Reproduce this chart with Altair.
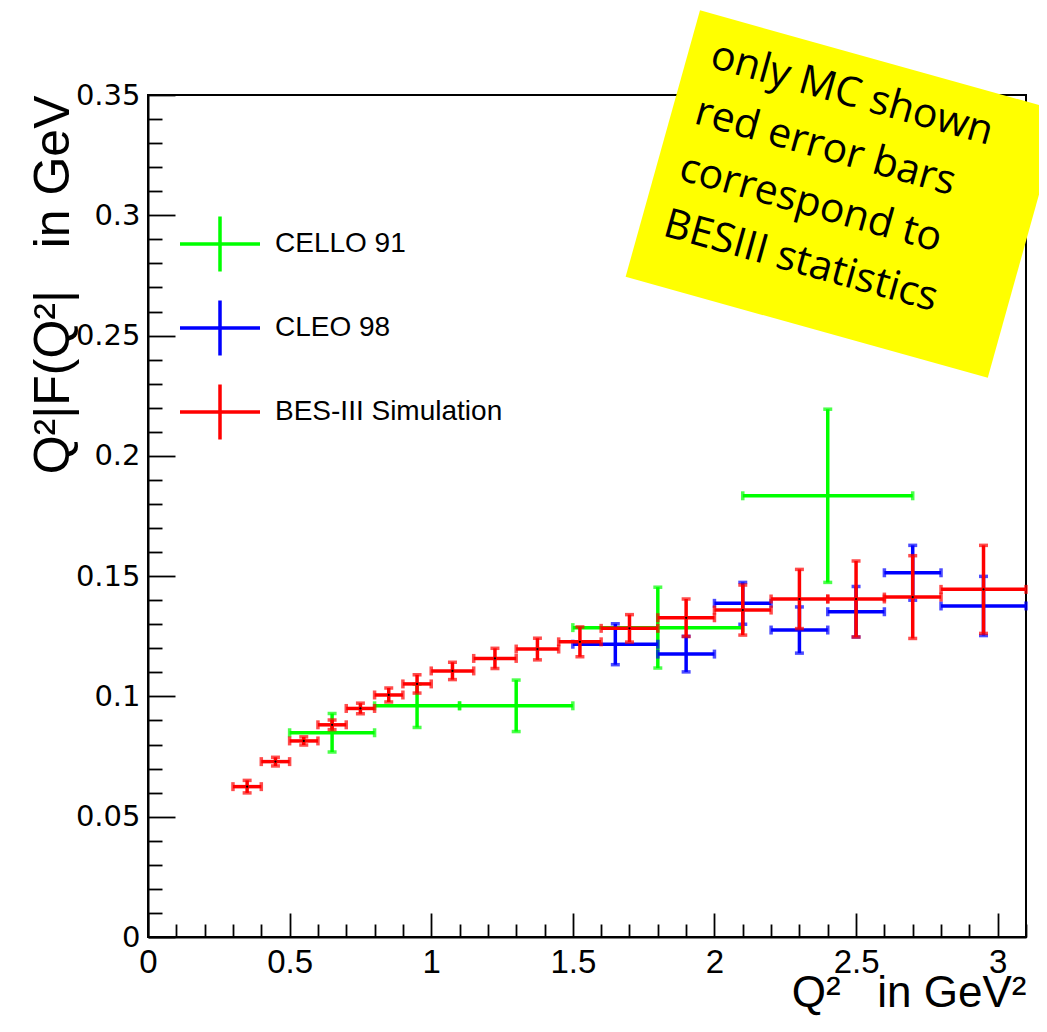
import altair as alt
import pandas as pd

# ---------------- data ----------------
series_names = ["CELLO 91", "CLEO 98", "BES-III Simulation"]
series_colors = ["#00ff00", "#0000ff", "#ff0000"]

cello_x = [0.65, 0.95, 1.3, 1.8, 2.4]
cello_xlo = [0.5, 0.8, 1.1, 1.5, 2.1]
cello_xhi = [0.8, 1.1, 1.5, 2.1, 2.7]
cello_y = [0.0849, 0.0961, 0.0961, 0.1286, 0.1834]
cello_yerr = [0.0080, 0.0090, 0.0107, 0.0168, 0.0360]

cleo_x = [1.65, 1.9, 2.1, 2.3, 2.5, 2.7, 2.95]
cleo_xlo = [1.5, 1.8, 2.0, 2.2, 2.4, 2.6, 2.8]
cleo_xhi = [1.8, 2.0, 2.2, 2.4, 2.6, 2.8, 3.1]
cleo_y = [0.1217, 0.1176, 0.1387, 0.1276, 0.1352, 0.1514, 0.1376]
cleo_yerr = [0.0085, 0.0074, 0.0087, 0.0096, 0.0105, 0.0114, 0.0123]

bes_x = [0.35, 0.45, 0.55, 0.65, 0.75, 0.85, 0.95, 1.075, 1.225, 1.375,
         1.525, 1.7, 1.9, 2.1, 2.3, 2.5, 2.7, 2.95]
bes_xlo = [0.3, 0.4, 0.5, 0.6, 0.7, 0.8, 0.9, 1.0, 1.15, 1.3,
           1.45, 1.6, 1.8, 2.0, 2.2, 2.4, 2.6, 2.8]
bes_xhi = [0.4, 0.5, 0.6, 0.7, 0.8, 0.9, 1.0, 1.15, 1.3, 1.45,
           1.6, 1.8, 2.0, 2.2, 2.4, 2.6, 2.8, 3.1]
bes_y = [0.0625, 0.0729, 0.0815, 0.0882, 0.0950, 0.1006, 0.1052, 0.1106, 0.1158, 0.1197,
         0.1227, 0.1283, 0.1327, 0.1359, 0.1405, 0.1405, 0.1413, 0.1445]
bes_yerr = [0.0026, 0.0018, 0.0017, 0.0020, 0.0022, 0.0029, 0.0038, 0.0036, 0.0042, 0.0045,
            0.0062, 0.0057, 0.0078, 0.0104, 0.0123, 0.0158, 0.0172, 0.0183]

x_major = [0, 0.5, 1, 1.5, 2, 2.5, 3]
x_minor = [0.1, 0.2, 0.3, 0.4, 0.6, 0.7, 0.8, 0.9, 1.1, 1.2, 1.3, 1.4, 1.6, 1.7, 1.8, 1.9,
           2.1, 2.2, 2.3, 2.4, 2.6, 2.7, 2.8, 2.9, 3.1]
y_major = [0, 0.05, 0.1, 0.15, 0.2, 0.25, 0.3, 0.35]
y_minor = [0.01, 0.02, 0.03, 0.04, 0.06, 0.07, 0.08, 0.09, 0.11, 0.12, 0.13, 0.14,
           0.16, 0.17, 0.18, 0.19, 0.21, 0.22, 0.23, 0.24, 0.26, 0.27, 0.28, 0.29,
           0.31, 0.32, 0.33, 0.34]

x_title = "Q²\u00a0\u00a0\u00a0in GeV²"
y_title = "Q²|F(Q²|\u00a0\u00a0\u00a0in GeV"

note_box_x = [2.457]
note_box_y = [0.3088]
note_text_x = [1.979]
note_text_y = [0.3617]
note_lines = ["only MC shown", "red error bars", "correspond to", "BESIII statistics"]


def frame(name, x, xlo, xhi, y, yerr):
    return pd.DataFrame({
        "series": name, "x": x, "xlo": xlo, "xhi": xhi, "y": y,
        "ylo": [a - b for a, b in zip(y, yerr)],
        "yhi": [a + b for a, b in zip(y, yerr)],
    })


df_cello = frame("CELLO 91", cello_x, cello_xlo, cello_xhi, cello_y, cello_yerr)
df_cleo = frame("CLEO 98", cleo_x, cleo_xlo, cleo_xhi, cleo_y, cleo_yerr)
df_bes = frame("BES-III Simulation", bes_x, bes_xlo, bes_xhi, bes_y, bes_yerr)

# ---------------- scales & axes ----------------
xscale = alt.Scale(domain=[0, 3.1], nice=False, zero=False)
yscale = alt.Scale(domain=[0, 0.35], nice=False, zero=False)
cscale = alt.Scale(domain=series_names, range=series_colors)

legend = alt.Legend(
    orient="none", legendX=30, legendY=107, title=None, padding=0,
    symbolType="M-1,0L1,0M0,-0.69L0,0.69", symbolSize=6400, symbolStrokeWidth=3.5,
    labelFont="Liberation Sans", labelFontSize=28, labelColor="black", labelOffset=13,
    rowPadding=7, labelLimit=400,
)

x_main = alt.Axis(
    orient="bottom", values=x_major, format="~g", grid=False, ticks=False, tickSize=0,
    domain=True, domainColor="black", domainWidth=2,
    labelFont="Liberation Sans", labelFontSize=33, labelColor="black", labelPadding=9,
    labelFlush=False, labelOverlap=False,
    title=x_title, titleFont="Liberation Sans", titleFontSize=44,
    titleFontWeight="normal", titleColor="black", titleAnchor="end",
    titleBaseline="alphabetic", titleY=69,
)
y_main = alt.Axis(
    orient="left", values=y_major, format="~g", grid=False, ticks=False, tickSize=0,
    domain=True, domainColor="black", domainWidth=2,
    labelFont="DejaVu Sans", labelFontSize=29, labelColor="black", labelPadding=8,
    labelFlush=False, labelOverlap=False,
    title=y_title, titleFont="Liberation Sans", titleFontSize=50,
    titleFontWeight="normal", titleColor="black", titleAnchor="end",
    titleBaseline="alphabetic", titleX=-80,
)
x_maj = alt.Axis(orient="bottom", values=x_major, labels=False, domain=False, grid=False,
                 ticks=True, tickSize=24, tickWidth=1.8, tickColor="black", offset=-24, title=None)
x_min = alt.Axis(orient="bottom", values=x_minor, labels=False, domain=False, grid=False,
                 ticks=True, tickSize=13, tickWidth=1.8, tickColor="black", offset=-13, title=None)
y_maj = alt.Axis(orient="left", values=y_major, labels=False, domain=False, grid=False,
                 ticks=True, tickSize=27, tickWidth=1.8, tickColor="black", offset=-27, title=None)
y_min = alt.Axis(orient="left", values=y_minor, labels=False, domain=False, grid=False,
                 ticks=True, tickSize=14, tickWidth=1.8, tickColor="black", offset=-14, title=None)

LW = 3.5
CAP = 9


def X(field, axis=None):
    return alt.X(f"{field}:Q", scale=xscale, axis=axis)


def Y(field, axis=None):
    return alt.Y(f"{field}:Q", scale=yscale, axis=axis)


def C(leg=None):
    return alt.Color("series:N", scale=cscale, legend=leg)


layers = []
for i, df in enumerate([df_cello, df_cleo, df_bes]):
    first = i == 0
    base = alt.Chart(df)
    hbar = base.mark_rule(strokeWidth=LW).encode(
        x=X("xlo", x_main if first else None), x2="xhi",
        y=Y("y", y_main if first else None), color=C(legend if first else None))
    vbar = base.mark_rule(strokeWidth=LW).encode(
        x=X("x", x_maj if first else None),
        y=Y("ylo", y_maj if first else None), y2="yhi", color=C())
    cap_l = base.mark_tick(orient="vertical", size=CAP, thickness=LW).encode(
        x=X("xlo", x_min if first else None), y=Y("y", y_min if first else None), color=C())
    cap_r = base.mark_tick(orient="vertical", size=CAP, thickness=LW).encode(
        x=X("xhi"), y=Y("y"), color=C())
    cap_b = base.mark_tick(orient="horizontal", size=CAP, thickness=LW).encode(
        x=X("x"), y=Y("ylo"), color=C())
    cap_t = base.mark_tick(orient="horizontal", size=CAP, thickness=LW).encode(
        x=X("x"), y=Y("yhi"), color=C())
    layers += [hbar, vbar, cap_l, cap_r, cap_b, cap_t]

dots = alt.Chart(df_bes).mark_circle(size=5, color="black", opacity=1).encode(
    x=X("x"), y=Y("y"))
layers.append(dots)

note_box_df = pd.DataFrame({"x": note_box_x, "y": note_box_y})
note_text_df = pd.DataFrame({"x": note_text_x, "y": note_text_y})

box = alt.Chart(note_box_df).mark_point(
    shape="M-1,-0.7356L1,-0.7356L1,0.7356L-1,0.7356Z", filled=True, fill="#ffff00",
    opacity=1, strokeWidth=0, size=141376, angle=15.6, clip=False,
).encode(x=X("x"), y=Y("y"))

note = alt.Chart(note_text_df).mark_text(
    text=note_lines, angle=15.6, align="left", baseline="alphabetic",
    font="Open Sans", fontSize=41, lineHeight=58.3, color="black", clip=False,
).encode(x=X("x"), y=Y("y"))

layers += [box, note]

chart = alt.layer(*layers).resolve_axis(
    x="independent", y="independent"
).properties(
    width=878, height=842,
    autosize=alt.AutoSizeParams(type="none"),
    padding={"left": 140, "top": 87, "right": 13, "bottom": 79},
    background="white",
).configure_view(stroke="black", strokeWidth=2)

chart.save("out.html", embed_options={"renderer": "svg", "actions": False})
